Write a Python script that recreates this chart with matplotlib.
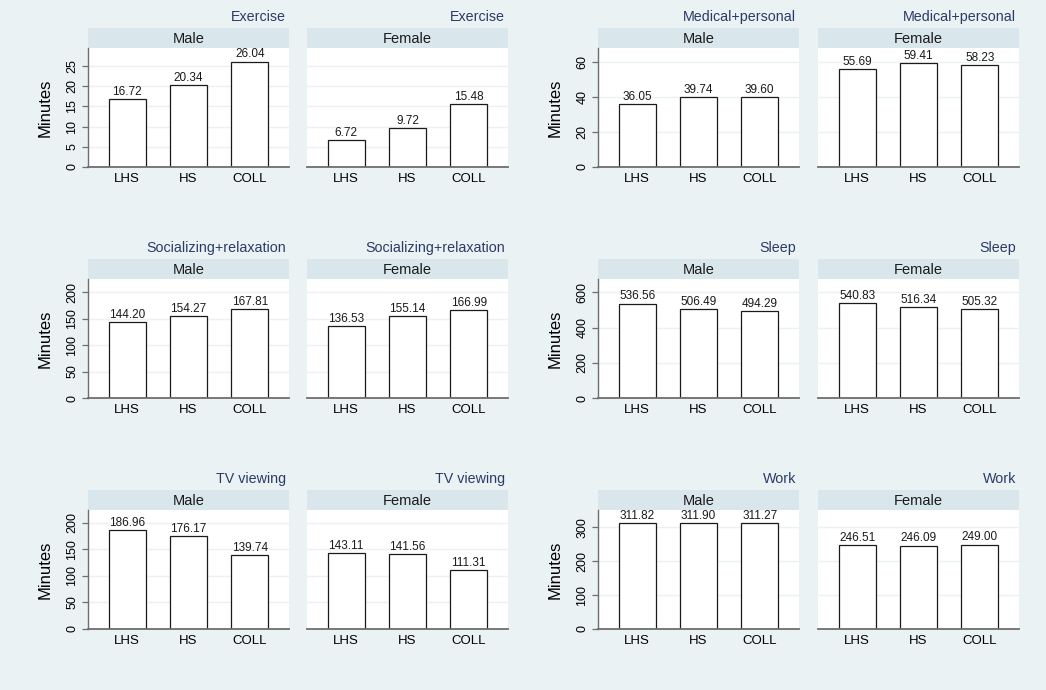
import matplotlib
matplotlib.use("Agg")
import matplotlib.pyplot as plt
import numpy as np

plt.rcParams['font.family'] = ['Liberation Sans', 'DejaVu Sans']

# data
activities = ["Exercise", "Medical+personal", "Socializing+relaxation",
              "Sleep", "TV viewing", "Work"]
education = ["LHS", "HS", "COLL"]
male = [
    [16.72, 20.34, 26.04],
    [36.05, 39.74, 39.60],
    [144.20, 154.27, 167.81],
    [536.56, 506.49, 494.29],
    [186.96, 176.17, 139.74],
    [311.82, 311.90, 311.27],
]
female = [
    [6.72, 9.72, 15.48],
    [55.69, 59.41, 58.23],
    [136.53, 155.14, 166.99],
    [540.83, 516.34, 505.32],
    [143.11, 141.56, 111.31],
    [246.51, 246.09, 249.00],
]
tick_step = [5, 20, 50, 200, 50, 100]
tick_max = [25, 60, 200, 600, 200, 300]
y_top = [29.4, 67.8, 225, 676, 224.5, 351]

BG = "#EAF2F3"
STRIP = "#D9E6EB"
TITLE = "#2b3b66"
AXIS = "#6e6e6e"

W, H = 1046, 690
fig = plt.figure(figsize=(W / 100, H / 100), dpi=100, facecolor=BG)


def box(x0, y0, w, h):
    # pixel box (top-left origin) -> figure fraction rect
    return [x0 / W, 1 - (y0 + h) / H, w / W, h / H]


col_x = [(88, 307), (598, 818)]
panel_w = 201
strip_h = 20
plot_h = 119

for i, act in enumerate(activities):
    row, col = divmod(i, 2)
    strip_top = 28 + 231 * row
    for j, (sex, vals) in enumerate([("Male", male[i]), ("Female", female[i])]):
        x0 = col_x[col][j]
        # strip
        sax = fig.add_axes(box(x0, strip_top, panel_w, strip_h))
        sax.set_facecolor(STRIP)
        sax.set_xticks([])
        sax.set_yticks([])
        for s in sax.spines.values():
            s.set_visible(False)
        sax.text(0.5, 0.45, sex, ha="center", va="center", fontsize=10.5,
                 color="#1a1a1a", transform=sax.transAxes)
        sax.text(0.985, 1.55, act, ha="right", va="center", fontsize=10.3,
                 color=TITLE, transform=sax.transAxes)

        ax = fig.add_axes(box(x0, strip_top + strip_h, panel_w, plot_h))
        ax.set_facecolor("white")
        xs = np.arange(len(education))
        bars = ax.bar(xs, vals, width=0.6, color="white", edgecolor="#1a1a1a",
                      linewidth=0.9, zorder=3)
        for b, v in zip(bars, vals):
            ax.annotate(f"{v:.2f}", (b.get_x() + b.get_width() / 2, v),
                        xytext=(0, 0.8), textcoords="offset points",
                        ha="center", va="bottom", fontsize=8.5, color="#1a1a1a",
                        zorder=4)
        ax.set_xlim(-0.64, 2.64)
        ax.set_ylim(0, y_top[i])
        yt = np.arange(0, tick_max[i] + 1, tick_step[i])
        ax.set_yticks(yt)
        for t in yt[1:]:
            ax.axhline(t, color=BG, lw=1.0, zorder=1)
        ax.set_xticks(xs)
        ax.set_xticklabels(education, fontsize=9.5)
        ax.tick_params(axis="x", length=0, pad=4)
        for s in ["top", "right"]:
            ax.spines[s].set_visible(False)
        ax.spines["bottom"].set_color(AXIS)
        ax.spines["bottom"].set_linewidth(1.3)
        ax.spines["bottom"].set_zorder(5)
        if j == 0:
            ax.spines["left"].set_color(AXIS)
            ax.spines["left"].set_linewidth(1.0)
            ax.tick_params(axis="y", length=4, color=AXIS, width=0.9,
                           labelsize=9, pad=3)
            for lab in ax.get_yticklabels():
                lab.set_rotation(90)
                lab.set_va("center")
            ax.set_ylabel("Minutes", fontsize=12, labelpad=10)
        else:
            ax.spines["left"].set_visible(False)
            ax.tick_params(axis="y", length=0, labelleft=False)

fig.savefig("out.png", dpi=100, facecolor=BG)
